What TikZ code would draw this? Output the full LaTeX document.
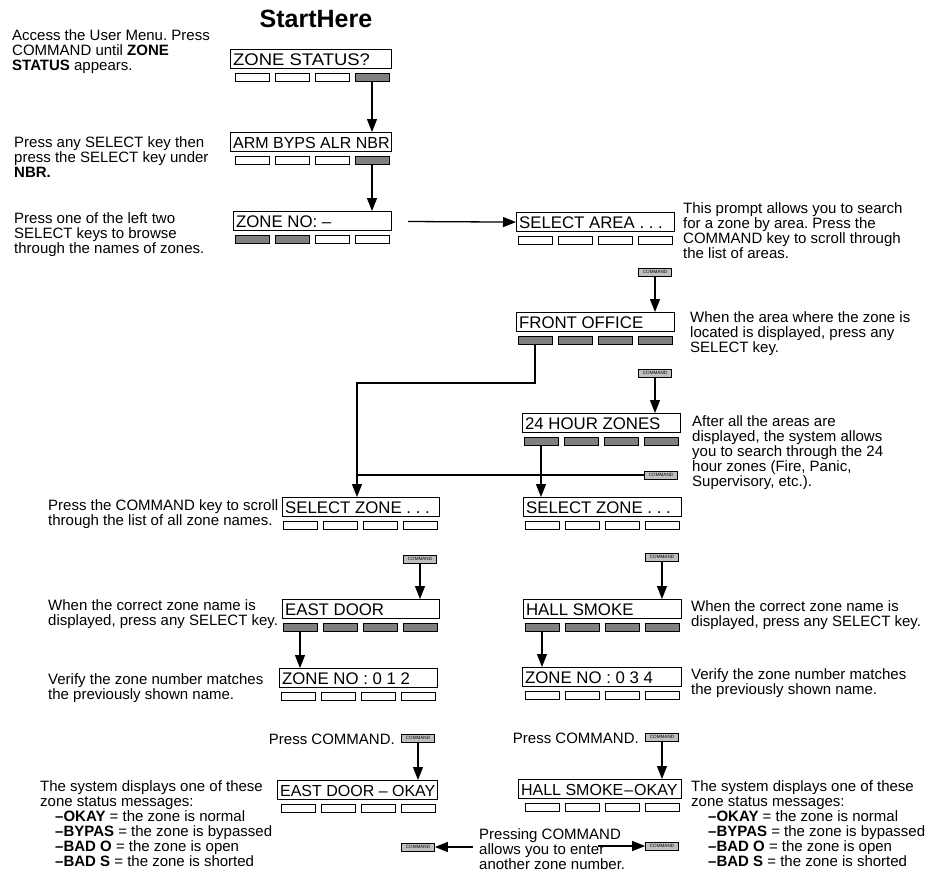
\documentclass[tikz,border=0pt]{standalone}
\usepackage{fontspec}
\setmainfont{Liberation Sans}
\usetikzlibrary{arrows.meta,calc}
\tikzset{
 body/.style={anchor=north west, inner sep=0pt, align=left, font=\fontsize{15pt}{15pt}\selectfont},
 dispbox/.style={draw, line width=1.2pt, anchor=north west, inner xsep=2.5pt, inner ysep=0pt, minimum height=19pt, text height=14pt, text depth=2pt, font=\fontsize{16.8pt}{17pt}\selectfont},
 keyoff/.style={draw, line width=0.9pt, fill=white, minimum width=34pt, minimum height=8pt, inner sep=0pt},
 keyon/.style={keyoff, fill=black!50},
 cmdkey/.style={draw, line width=0.7pt, fill=black!25, minimum width=33pt, minimum height=8pt, inner sep=0pt, font=\fontsize{4.6pt}{5pt}\selectfont},
 arr/.style={line width=1.3pt, -{Triangle[length=13pt,width=10pt]}},
 conn/.style={line width=1.3pt},
}
\newcommand\disp[9]{%
  \pgfmathsetmacro\tw{#4-5}%
  \pgfmathsetmacro\kx{#2+#4-19}%
  \pgfmathsetmacro\ky{#3+28}%
  \node[dispbox] (#1) at (#2,#3) {\makebox[\tw pt][l]{#5}};
  \node[#6] (#1k1) at (\kx-120,\ky) {};
  \node[#7] (#1k2) at (\kx-80,\ky) {};
  \node[#8] (#1k3) at (\kx-40,\ky) {};
  \node[#9] (#1k4) at (\kx,\ky) {};
}
\newcommand\tight[1]{{\fontsize{16pt}{17pt}\selectfont #1}}
\begin{document}
\frenchspacing
\begin{tikzpicture}[x=1pt,y=-1pt]
\useasboundingbox (0,0) rectangle (934,881);
\node[font=\bfseries\fontsize{25pt}{25pt}\selectfont, inner sep=0pt] (title) at (316,19) {StartHere};

% displays
\disp{zs}{230}{49}{161}{\scalebox{1.1}[1]{ZONE STATUS?}}{keyoff}{keyoff}{keyoff}{keyon}
\disp{arm}{230}{132}{161}{\tight{ARM BYPS ALR NBR}}{keyoff}{keyoff}{keyoff}{keyon}
\disp{zn}{233}{211}{158}{ZONE NO: –}{keyon}{keyon}{keyoff}{keyoff}
\disp{sa}{516}{212}{158}{SELECT AREA . . .}{keyoff}{keyoff}{keyoff}{keyoff}
\disp{fo}{516}{312}{158}{FRONT OFFICE}{keyon}{keyon}{keyon}{keyon}
\disp{hz}{522}{413}{158}{24 HOUR ZONES}{keyon}{keyon}{keyon}{keyon}
\disp{szl}{282}{497}{157}{SELECT ZONE . . .}{keyoff}{keyoff}{keyoff}{keyoff}
\disp{szr}{523}{497}{158}{SELECT ZONE . . .}{keyoff}{keyoff}{keyoff}{keyoff}
\disp{ed}{282}{599}{157}{EAST DOOR}{keyon}{keyon}{keyon}{keyon}
\disp{hs}{523}{599}{158}{HALL SMOKE}{keyon}{keyon}{keyon}{keyon}
\disp{zt}{279}{668}{158}{ZONE NO : 0 1 2}{keyoff}{keyoff}{keyoff}{keyoff}
\disp{zf}{522}{667}{159}{ZONE NO : 0 3 4}{keyoff}{keyoff}{keyoff}{keyoff}
\disp{edo}{277}{780}{160}{\tight{EAST DOOR – OKAY}}{keyoff}{keyoff}{keyoff}{keyoff}
\disp{hso}{518}{779}{163}{\tight{HALL SMOKE\kern1pt–\kern1ptOKAY}}{keyoff}{keyoff}{keyoff}{keyoff}

% command keys
\node[cmdkey] (c1) at (655,272) {COMMAND};
\node[cmdkey] (c2) at (655,373) {COMMAND};
\node[cmdkey] (c3) at (661,475) {COMMAND};
\node[cmdkey] (c4) at (420,559) {COMMAND};
\node[cmdkey] (c5) at (662,557) {COMMAND};
\node[cmdkey] (c6) at (418,738) {COMMAND};
\node[cmdkey] (c7) at (662,737) {COMMAND};
\node[cmdkey] (c8) at (418,847) {COMMAND};
\node[cmdkey] (c9) at (662,846) {COMMAND};

% texts
\node[body] (tA) at (12,29) {Access the User Menu. Press\\COMMAND until \textbf{ZONE}\\\textbf{STATUS} appears.};
\node[body] (tB) at (14,136) {Press any SELECT key then\\press the SELECT key under\\\textbf{NBR.}};
\node[body] (tC) at (14,212) {Press one of the left two\\SELECT keys to browse\\through the names of zones.};
\node[body] (tD) at (683,202) {This prompt allows you to search\\for a zone by area. Press the\\COMMAND key to scroll through\\the list of areas.};
\node[body] (tE) at (690,311) {When the area where the zone is\\located is displayed, press any\\SELECT key.};
\node[body] (tF) at (692,415) {After all the areas are\\displayed, the system allows\\you to search through the 24\\hour zones (Fire, Panic,\\Supervisory, etc.).};
\node[body] (tG) at (48,499) {Press the COMMAND key to scroll\\through the list of all zone names.};
\node[body] (tH) at (48,599) {When the correct zone name is\\displayed, press any SELECT key.};
\node[body] (tI) at (691,600) {When the correct zone name is\\displayed, press any SELECT key.};
\node[body] (tJ) at (48,673) {Verify the zone number matches\\the previously shown name.};
\node[body] (tK) at (691,668) {Verify the zone number matches\\the previously shown name.};
\node[body, anchor=east] (tL) at (395,739) {Press COMMAND.};
\node[body, anchor=east] (tM) at (639,738) {Press COMMAND.};
\node[body] (tN) at (40,780) {The system displays one of these\\zone status messages:\\
\hspace*{15pt}\textbf{–OKAY} = the zone is normal\\
\hspace*{15pt}\textbf{–BYPAS} = the zone is bypassed\\
\hspace*{15pt}\textbf{–BAD O} = the zone is open\\
\hspace*{15pt}\textbf{–BAD S} = the zone is shorted};
\node[body] (tO) at (691,780) {The system displays one of these\\zone status messages:\\
\hspace*{17pt}\textbf{–OKAY} = the zone is normal\\
\hspace*{17pt}\textbf{–BYPAS} = the zone is bypassed\\
\hspace*{17pt}\textbf{–BAD O} = the zone is open\\
\hspace*{17pt}\textbf{–BAD S} = the zone is shorted};
\node[body] (tP) at (479,828) {Pressing COMMAND\\allows you to enter\\another zone number.};

% connectors
\draw[arr] (zsk4) -- (arm.north -| zsk4);
\draw[arr] (armk4) -- (zn.north -| armk4);
\coordinate (zsa) at (408,221.5);
\draw[arr] (zsa) -- (sa.west);
\draw[arr] (c1) -- (fo.north -| c1);
\draw[arr] (c2) -- (hz.north -| c2);
\coordinate (jn) at (357,383);
\draw[arr] (fok1) |- (jn) -- (szl.north -| jn);
\draw[conn] (c3) -- (c3 -| jn);
\draw[arr] (hzk1) -- (szr.north -| hzk1);
\draw[arr] (c4) -- (ed.north -| c4);
\draw[arr] (c5) -- (hs.north -| c5);
\draw[arr] (edk1) -- (zt.north -| edk1);
\draw[arr] (hsk1) -- (zf.north -| hsk1);
\draw[arr] (c6) -- (edo.north -| c6);
\draw[arr] (c7) -- (hso.north -| c7);
\coordinate (pl) at (473,847);
\draw[arr] (pl) -- (c8.east);
\coordinate (pr) at (598,846);
\draw[arr] (pr) -- (c9.west);
\end{tikzpicture}
\end{document}
